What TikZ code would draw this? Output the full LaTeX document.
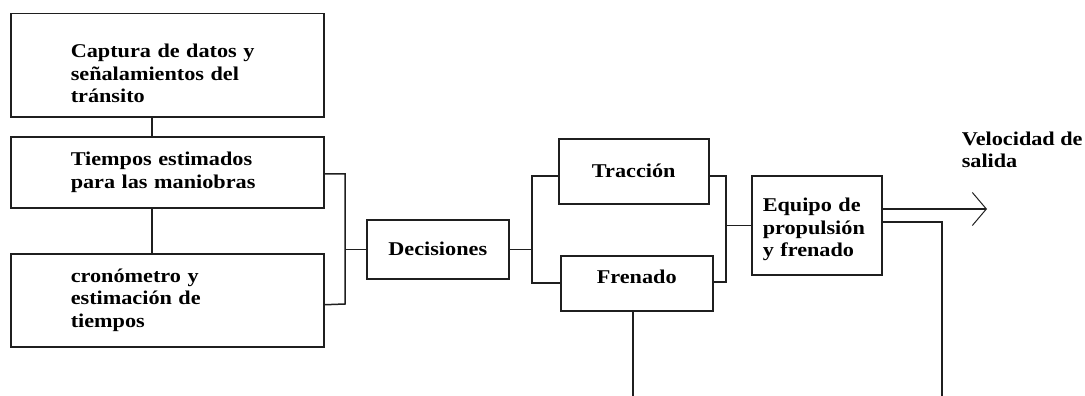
\documentclass[tikz,border=0pt]{standalone}
\usepackage{fontspec}
\setmainfont{Liberation Serif}[FakeStretch=1.14]
\usetikzlibrary{arrows.meta}
\begin{document}
\begin{tikzpicture}[x=1pt,y=-1pt,
  font=\fontsize{19.5}{22.5}\selectfont\bfseries,
  line width=1.5pt, draw=black!88,
  blk/.style={draw, rectangle, inner sep=0pt, anchor=north west, align=left},
  wire/.style={draw, line width=1.5pt}]
\useasboundingbox (0,0) rectangle (1085,396);

\node[blk, minimum width=313pt, minimum height=103pt, text width=193pt] (b1) at (10,13)
  {\rule{0pt}{30pt}Captura de datos y\\señalamientos del\\tránsito};
\node[blk, minimum width=313pt, minimum height=71pt, text width=193pt] (b2) at (10,136)
  {Tiempos estimados\\para las maniobras};
\node[blk, minimum width=313pt, minimum height=93pt, text width=193pt] (b3) at (10,253)
  {cronómetro y\\estimación de\\tiempos};
\node[blk, minimum width=142pt, minimum height=59pt, align=center] (dec) at (366,219) {Decisiones};
\node[blk, minimum width=150pt, minimum height=65pt, align=center] (tra) at (558,138) {Tracción};
\node[blk, minimum width=152pt, minimum height=55pt, align=center, text depth=14pt] (fre) at (560,255) {Frenado};
\node[blk, minimum width=130pt, minimum height=99pt, text width=108pt] (eq) at (751,175)
  {\rule{0pt}{22.7pt}Equipo de\\propulsión\\y frenado};
\node[anchor=north west, inner sep=0pt, align=left] (vel) at (961,131) {Velocidad de\\salida};

\coordinate (bt) at (345,0);
\coordinate (sp) at (532,0);
\coordinate (mg) at (726,0);
\coordinate (out) at (987,209);
\coordinate (fb1) at (633,396);
\coordinate (fb2) at (942,396);

\draw[wire] ([xshift=-15.5pt]b1.south) -- ([xshift=-15.5pt]b2.north);
\draw[wire] ([xshift=-15.5pt]b2.south) -- ([xshift=-15.5pt]b3.north);

\draw[wire] ([yshift=-1.5pt]b2.east) -| (bt |- 0,304) -- ([yshift=-4.5pt]b3.east);
\draw[wire] (dec.west) -- (dec.west -| bt);

\draw[wire] (dec.east) -- (dec.east -| sp);
\draw[wire] ([yshift=-4.5pt]tra.west) -| (sp |- 0,283) -- (fre.west |- 0,283);

\draw[wire] ([yshift=-4.5pt]tra.east) -| (mg |- 0,282) -- (fre.east |- 0,282);
\draw[wire] (eq.west) -- (eq.west -| mg);

\draw[wire, -{Straight Barb[length=14pt,width=33pt,line width=1pt]}] (eq.east |- out) -- (out);
\draw[wire] (eq.east |- 0,222) -| (fb2);
\draw[wire] (fre.south -| fb1) -- (fb1);
\end{tikzpicture}
\end{document}
